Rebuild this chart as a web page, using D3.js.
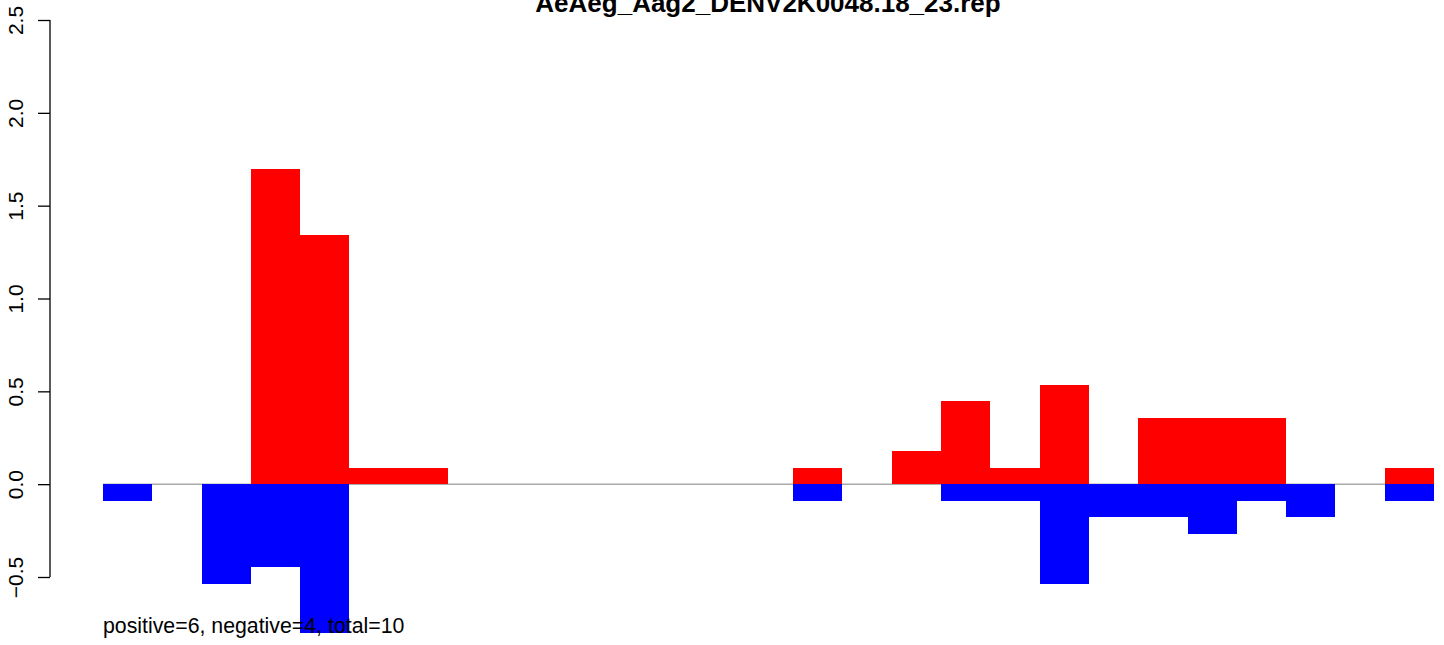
<!DOCTYPE html>
<html><head><meta charset="utf-8">
<script src="https://cdn.jsdelivr.net/npm/d3@7"></script>
<style>html,body{margin:0;padding:0;background:#fff;}svg{display:block;font-family:"Liberation Sans",Arial,Helvetica,sans-serif;}</style>
</head><body>
<svg id="chart" width="1444" height="645"></svg>
<script>
const title = "AeAeg_Aag2_DENV2K0048.18_23.rep";
const footer = "positive=6, negative=4, total=10";
const binCount = 27;
const positiveBins = [3, 4, 5, 6, 14, 16, 17, 18, 19, 21, 22, 23, 26];
const positiveValues = [1.70, 1.34, 0.089, 0.089, 0.089, 0.179, 0.446, 0.089, 0.536, 0.357, 0.357, 0.357, 0.089];
const negativeBins = [0, 2, 3, 4, 14, 17, 18, 19, 20, 21, 22, 23, 24, 26];
const negativeValues = [-0.089, -0.536, -0.446, -0.80, -0.089, -0.089, -0.089, -0.536, -0.179, -0.179, -0.268, -0.089, -0.179, -0.089];
const yTicks = [-0.5, 0.0, 0.5, 1.0, 1.5, 2.0, 2.5];

const svg = d3.select("#chart");
const x = d3.scaleLinear().domain([0, binCount]).range([103, 1434]);
const y = d3.scaleLinear().domain([-0.5, 2.5]).range([577, 20]);

// zero line
svg.append("line").attr("x1", x(0)).attr("x2", x(binCount))
  .attr("y1", y(0)).attr("y2", y(0)).attr("stroke", "#808080").attr("stroke-width", 1);

const pos = positiveBins.map((b, i) => ({b, v: positiveValues[i]}));
const neg = negativeBins.map((b, i) => ({b, v: negativeValues[i]}));

svg.append("g").attr("shape-rendering", "crispEdges").selectAll("rect").data(pos).join("rect")
  .attr("x", d => x(d.b)).attr("width", d => x(d.b + 1) - x(d.b))
  .attr("y", d => y(d.v)).attr("height", d => y(0) - y(d.v))
  .attr("fill", "#ff0000");
svg.append("g").attr("shape-rendering", "crispEdges").selectAll("rect").data(neg).join("rect")
  .attr("x", d => x(d.b)).attr("width", d => x(d.b + 1) - x(d.b))
  .attr("y", y(0)).attr("height", d => y(d.v) - y(0))
  .attr("fill", "#0000ff");

// y axis
const axis = d3.axisLeft(y).tickValues(yTicks).tickFormat(d3.format(".1f")).tickSize(12).tickPadding(0);
const g = svg.append("g").attr("transform", "translate(50,0)").call(axis);
g.select(".domain").attr("d", `M0,${y(-0.5)}V${y(2.5)}`).attr("stroke", "#000").attr("stroke-width", 1.3);
g.selectAll(".tick line").attr("stroke", "#000").attr("stroke-width", 1.3);
g.selectAll(".tick text").attr("font-size", 21).attr("fill", "#000")
  .attr("text-anchor", "middle").attr("dy", null).attr("x", null)
  .attr("transform", "translate(-27,0) rotate(-90)").attr("y", 0);

svg.append("text").attr("x", 768).attr("y", 12).attr("text-anchor", "middle")
  .attr("font-size", 26).attr("font-weight", "bold").text(title);
svg.append("text").attr("x", 103).attr("y", 633).attr("font-size", 21.3).text(footer);
</script>
</body></html>
